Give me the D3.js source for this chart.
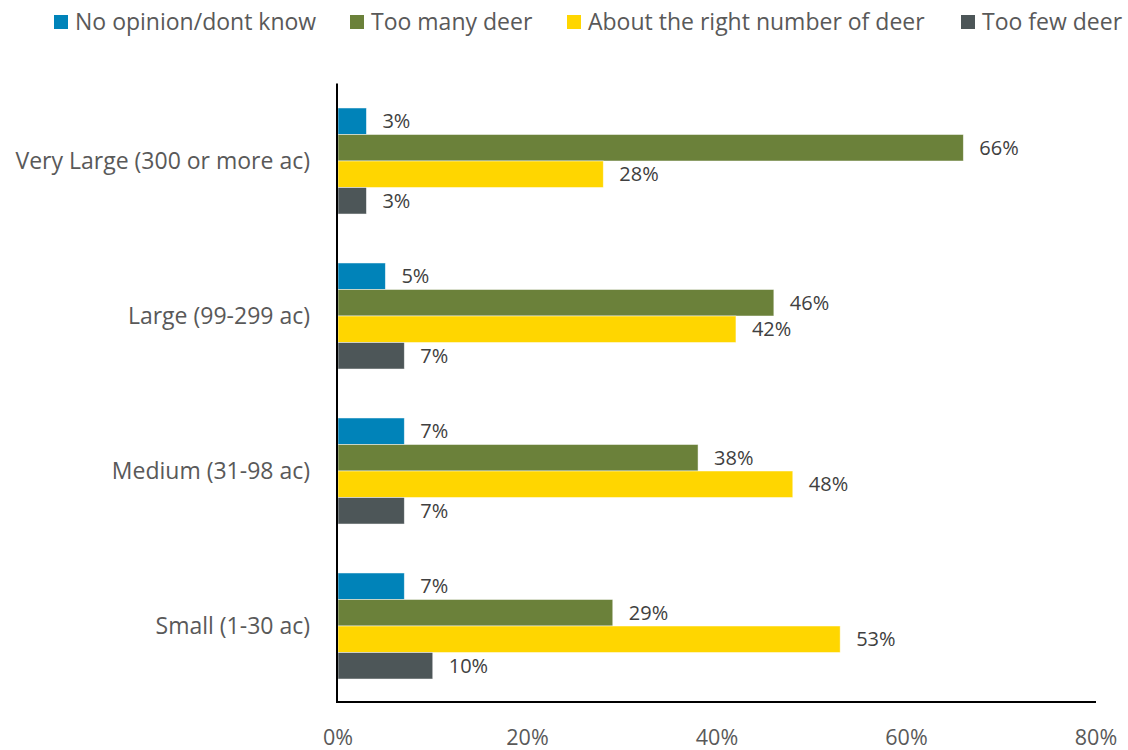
<!DOCTYPE html>
<html>
<head>
<meta charset="utf-8">
<script src="https://cdn.jsdelivr.net/npm/d3@7"></script>
<style>
  html, body { margin: 0; padding: 0; background: #fff; }
  svg { display: block; }
  text { font-family: "Open Sans", "Noto Sans", sans-serif; fill: #595959; }
</style>
</head>
<body>
<svg id="chart" width="1128" height="750"></svg>
<script>
// Landowner opinion on deer numbers, by property size
const categories = ["Very Large (300 or more ac)", "Large (99-299 ac)", "Medium (31-98 ac)", "Small (1-30 ac)"];
const seriesNames = ["No opinion/dont know", "Too many deer", "About the right number of deer", "Too few deer"];
const seriesColors = ["#0083B9", "#6B813A", "#FFD600", "#4D5658"];
const noOpinion = [3, 5, 7, 7];
const tooMany = [66, 46, 38, 29];
const aboutRight = [28, 42, 48, 53];
const tooFew = [3, 7, 7, 10];
const xTicks = [0, 20, 40, 60, 80];

const seriesValues = [noOpinion, tooMany, aboutRight, tooFew];

const svg = d3.select("#chart");
const plotLeft = 338, plotRight = 1096, plotTop = 83.5, plotBottom = 703.5;

const x = d3.scaleLinear().domain([0, 80]).range([plotLeft, plotRight]);
const y = d3.scaleBand().domain(categories).range([plotTop, plotBottom])
  .paddingInner(0.316).paddingOuter(0.158);
const ySub = d3.scaleBand().domain(seriesNames).range([0, y.bandwidth()]);

// Bars with value labels
const groups = svg.append("g").selectAll("g")
  .data(categories)
  .join("g")
  .attr("transform", c => `translate(0,${y(c)})`);

groups.each(function (c, ci) {
  const g = d3.select(this);
  seriesNames.forEach((s, si) => {
    const v = seriesValues[si][ci];
    g.append("rect")
      .attr("x", x(0))
      .attr("y", ySub(s))
      .attr("width", x(v) - x(0))
      .attr("height", ySub.bandwidth())
      .attr("fill", seriesColors[si])
      .attr("stroke", "#ffffff")
      .attr("stroke-opacity", 0.6)
      .attr("stroke-width", 0.8);
    g.append("text")
      .attr("x", x(v) + 16)
      .attr("y", ySub(s) + ySub.bandwidth() / 2)
      .attr("dy", "0.36em")
      .attr("font-size", 20)
      .style("fill", "#404040")
      .text(v + "%");
  });
});

// Category labels
svg.append("g").selectAll("text")
  .data(categories)
  .join("text")
  .attr("x", 310)
  .attr("y", c => y(c) + y.bandwidth() / 2)
  .attr("dy", "0.36em")
  .attr("text-anchor", "end")
  .attr("font-size", 23)
  .text(c => c);

// Axis lines
svg.append("line")
  .attr("x1", plotLeft - 1).attr("x2", plotLeft - 1)
  .attr("y1", plotTop).attr("y2", 702)
  .attr("stroke", "#000").attr("stroke-width", 2);
svg.append("line")
  .attr("x1", plotLeft - 2).attr("x2", plotRight)
  .attr("y1", 702).attr("y2", 702)
  .attr("stroke", "#000").attr("stroke-width", 2);

// X tick labels
svg.append("g").selectAll("text")
  .data(xTicks)
  .join("text")
  .attr("x", d => x(d))
  .attr("y", 737)
  .attr("dy", "0.36em")
  .attr("text-anchor", "middle")
  .attr("font-size", 21.5)
  .text(d => d + "%");

// Legend
const legendX = [54, 350, 567, 961];
const legend = svg.append("g").selectAll("g")
  .data(seriesNames)
  .join("g")
  .attr("transform", (d, i) => `translate(${legendX[i]},22)`);
legend.append("rect")
  .attr("x", 0).attr("y", -7)
  .attr("width", 14).attr("height", 14)
  .attr("fill", (d, i) => seriesColors[i]);
legend.append("text")
  .attr("x", 21)
  .attr("y", 0)
  .attr("dy", "0.36em")
  .attr("font-size", 23)
  .text(d => d);
</script>
</body>
</html>
